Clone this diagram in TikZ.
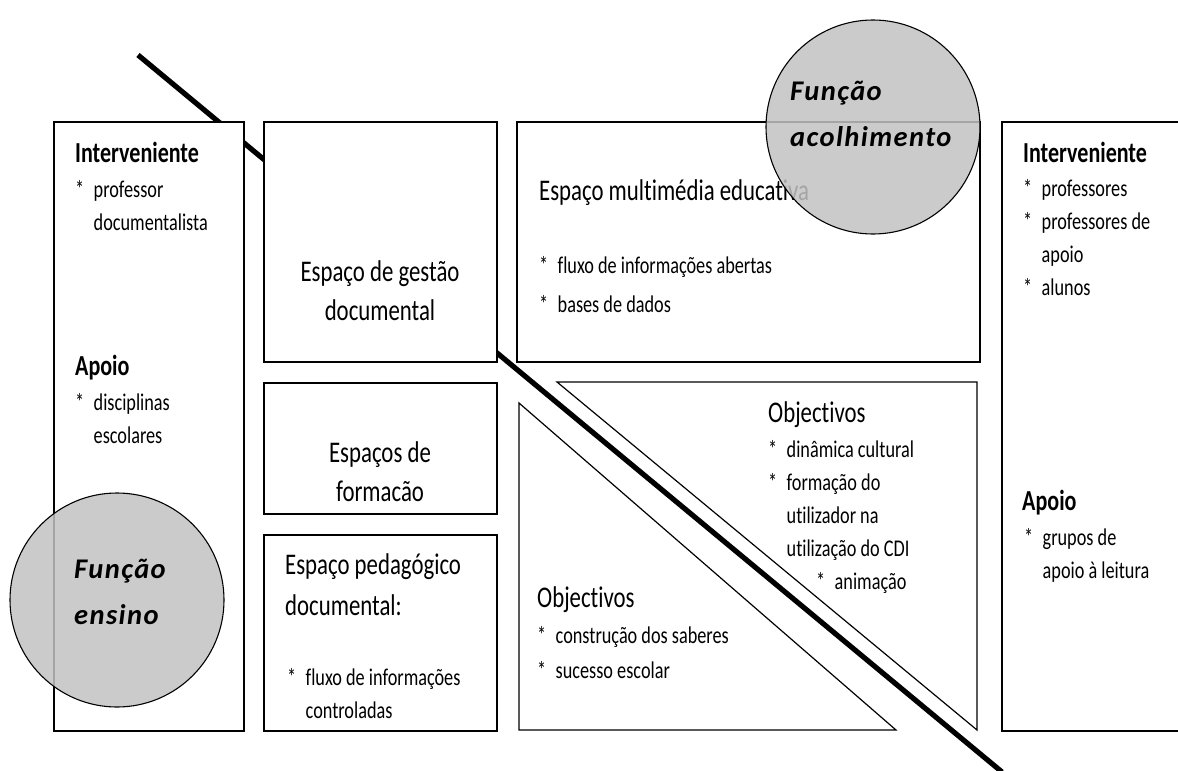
\documentclass[tikz,border=0pt]{standalone}
\usepackage{fontspec}
\setmainfont{Carlito}[FakeStretch=0.76, RawFeature={-liga;-clig;-calt;-dlig}]
\newfontfamily\funcfont{Carlito}[LetterSpace=5.0, RawFeature={-liga;-clig;-calt;-dlig}]

\newcommand\titlesize{\fontsize{30}{39}\selectfont}
\newcommand\itemsize{\fontsize{24}{33}\selectfont}
\newcommand\headsize{\fontsize{29}{33}\selectfont\bfseries}
\newcommand\funcsize{\funcfont\fontsize{28.5}{46.5}\selectfont\bfseries\itshape}
\newcommand\itmark{\makebox[18.5pt][l]{*}}
\newcommand\itgap{\hspace*{18.5pt}}

\tikzset{
  box/.style={draw, line width=1.9pt, fill=white, anchor=north west, inner sep=0pt},
  tri/.style={draw, line width=1.2pt},
  slash/.style={line width=5.2pt},
  func/.style={circle, draw, line width=1.1pt, fill=black!24, fill opacity=0.85, minimum size=214pt, inner sep=0pt},
  headline/.style={anchor=base west, inner sep=0pt, font=\headsize},
  boxtitle/.style={anchor=base west, inner sep=0pt, font=\titlesize},
  centred/.style={anchor=north, inner sep=0pt, align=center, font=\titlesize},
  items/.style={anchor=north west, inner sep=0pt, align=left, font=\itemsize},
  functext/.style={anchor=north west, inner sep=0pt, align=left, font=\funcsize}
}

\begin{document}
\begin{tikzpicture}[x=1pt, y=-1pt]
    \useasboundingbox (0,0) rectangle (1178,771);
    \clip (0,0) rectangle (1178,771);

    % the diagonal, behind the boxes
    \coordinate (s1) at (138,55);
    \coordinate (s2) at (1002,772);
    \draw[slash] (s1) -- (s2);

    % boxes
    \node[box, minimum width=190pt, minimum height=609pt] (lbox) at (53,121) {};
    \node[box, minimum width=233pt, minimum height=240pt] (gestao) at (263,121) {};
    \node[box, minimum width=233pt, minimum height=131pt] (formacao) at (263,382) {};
    \node[box, minimum width=233pt, minimum height=196pt] (pedag) at (263,534) {};
    \node[box, minimum width=463pt, minimum height=240pt] (multi) at (516,121) {};
    \node[box, minimum width=220pt, minimum height=609pt] (rbox) at (1001,121) {};

    % triangles
    \draw[tri] (519,403) -- (519,730) -- (896,730) -- cycle;
    \draw[tri] (557,382) -- (977,382) -- (977,730) -- cycle;

    % left box
    \node[headline] (lint) at (75,162) {Interveniente};
    \node[items] (lintitems) at (75,173.9) {\strut\itmark professor\\\itgap documentalista};
    \node[headline] (lapoio) at (75,375) {Apoio};
    \node[items] (lapoioitems) at (75,386.9) {\strut\itmark disciplinas\\\itgap escolares};

    % middle column
    \node[centred] (gestaotxt) at (380,253.7) {\strut Espaço de gestão\\documental};
    \node[centred] (formacaotxt) at (380,434.7) {\strut Espaços de\\formacão};
    \node[boxtitle] (pedagtxt) at (285,574) {Espaço pedagógico};
    \node[boxtitle] (pedagtxt2) at (285,615) {documental:};
    \node[items] (pedagitems) at (287,661.9) {\strut\itmark fluxo de informações\\\itgap controladas};

    % multimedia box
    \node[boxtitle] (multitxt) at (539,200) {Espaço multimédia educativa};
    \node[items] (multiitems) at (539,249.9) {\strut\itmark fluxo de informações abertas\\[6pt]\itmark bases de dados};

    % triangles text
    \node[boxtitle] (objup) at (768,422) {Objectivos};
    \node[items] (objupitems) at (768,433.9) {\strut\itmark dinâmica cultural\\\itmark formação do\\\itgap utilizador na\\\itgap utilização do CDI\\\hspace*{48pt}\itmark animação};
    \node[boxtitle] (objlow) at (537,607) {Objectivos};
    \node[items] (objlowitems) at (537,619.9) {\strut\itmark construção dos saberes\\[2pt]\itmark sucesso escolar};

    % right box
    \node[headline] (rint) at (1023,162) {Interveniente};
    \node[items] (rintitems) at (1023,173) {\strut\itmark professores\\\itmark professores de\\\itgap apoio\\\itmark alunos};
    \node[headline] (rapoio) at (1022,510) {Apoio};
    \node[items] (rapoioitems) at (1024,522) {\strut\itmark grupos de\\\itgap apoio à leitura};

    % functions
    \node[func] (ensino) at (117,600) {};
    \node[func] (acolh) at (873,127) {};
    \node[functext] (ensinotxt) at (74,545.5) {\strut Função\\ensino};
    \node[functext] (acolhtxt) at (790,67.5) {\strut Função\\acolhimento};
\end{tikzpicture}
\end{document}
